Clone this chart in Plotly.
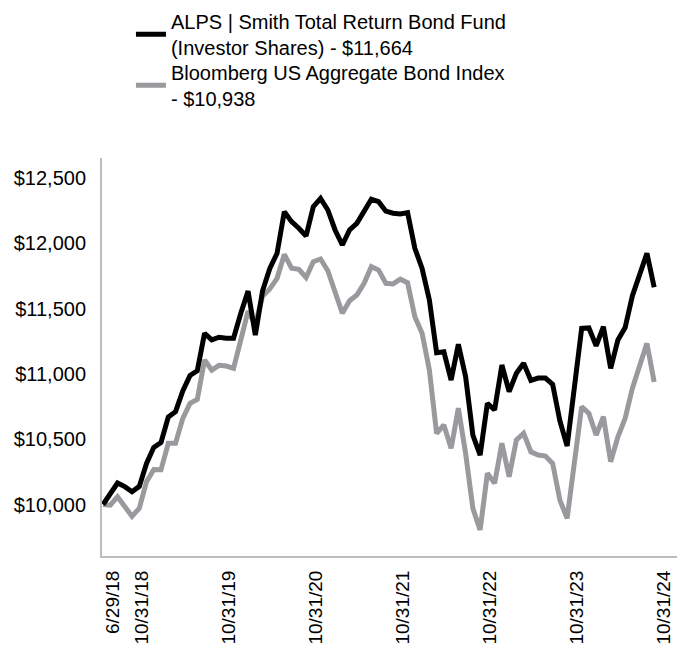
import pandas as pd
import plotly.graph_objects as go

# Monthly categories, 6/2018 .. 10/2024
months = [d.strftime("%Y-%m") for d in pd.date_range("2018-06-01", "2024-10-01", freq="MS")]

fund_name = "ALPS | Smith Total Return Bond Fund<br>(Investor Shares) - $11,664"
index_name = "Bloomberg US Aggregate Bond Index<br>- $10,938"

fund_values = [
    10000, 10075, 10165, 10137, 10098, 10139, 10315, 10438, 10475, 10670,
    10711, 10870, 10988, 11024, 11311, 11260, 11281, 11274, 11274, 11464,
    11634, 11298, 11636, 11808, 11923, 12242, 12166, 12115, 12056, 12280,
    12344, 12255, 12102, 11987, 12102, 12153, 12242, 12337, 12319, 12246,
    12230, 12225, 12235, 11962, 11808, 11566, 11163, 11170, 10953, 11227,
    10979, 10532, 10379, 10775, 10724, 11068, 10864, 11005, 11081, 10950,
    10968, 10968, 10920, 10640, 10448, 10902, 11349, 11352, 11215, 11361,
    11043, 11260, 11355, 11598, 11750, 11923, 11664,
]

index_values = [
    10000, 9995, 10060, 9985, 9910, 9971, 10175, 10268, 10266, 10469,
    10469, 10660, 10775, 10805, 11106, 11030, 11066, 11060, 11043, 11260,
    11480, 11380, 11595, 11650, 11732, 11915, 11810, 11801, 11738, 11859,
    11880, 11790, 11617, 11464, 11560, 11604, 11694, 11821, 11795, 11694,
    11689, 11725, 11698, 11438, 11311, 11030, 10545, 10609, 10430, 10737,
    10392, 9971, 9805, 10239, 10162, 10469, 10213, 10494, 10545, 10404,
    10379, 10371, 10315, 10034, 9894, 10341, 10749, 10698, 10532, 10672,
    10328, 10519, 10660, 10890, 11056, 11234, 10938,
]

tick_months = ["2018-06", "2018-10", "2019-10", "2020-10", "2021-10", "2022-10", "2023-10", "2024-10"]
tick_labels = ["6/29/18", "10/31/18", "10/31/19", "10/31/20", "10/31/21", "10/31/22", "10/31/23", "10/31/24"]

y_ticks = [10000, 10500, 11000, 11500, 12000, 12500]
y_labels = ["$10,000", "$10,500", "$11,000", "$11,500", "$12,000", "$12,500"]

FONT = "Liberation Sans, Arial, Helvetica, sans-serif"

fig = go.Figure()
fig.add_trace(go.Scatter(
    x=months, y=fund_values, mode="lines", name=fund_name,
    line=dict(color="#000000", width=5), legend="legend",
))
fig.add_trace(go.Scatter(
    x=months, y=index_values, mode="lines", name=index_name,
    line=dict(color="#9a9a9e", width=5), legend="legend2",
))
# draw the fund line on top
fig.data = (fig.data[1], fig.data[0])

legend_common = dict(
    xanchor="left", yanchor="top",
    font=dict(family=FONT, size=20, color="#000000"),
    bgcolor="rgba(0,0,0,0)", borderwidth=0, itemwidth=30,
)

# page body has an 8px default margin; the figure is sized to fill the window
fig.update_layout(
    width=677, height=638,
    margin=dict(l=94, r=4, t=150, b=90, autoexpand=False),
    paper_bgcolor="white", plot_bgcolor="white",
    font=dict(family=FONT, size=20, color="#000000"),
    showlegend=True,
    legend=dict(x=0.050, y=1.3925, **legend_common),
    legend2=dict(x=0.050, y=1.2643, **legend_common),
    xaxis=dict(
        type="category", range=[-0.14, 79.7], automargin=False,
        tickmode="array", tickvals=tick_months, ticktext=tick_labels,
        tickangle=-90, ticks="", showgrid=False, zeroline=False,
        showline=True, linecolor="#bdbdbd", linewidth=2,
        tickfont=dict(family=FONT, size=19, color="#000000"),
        ticklabelshift=10, ticklabelstandoff=5,
    ),
    yaxis=dict(
        range=[9606, 12653], automargin=False,
        tickmode="array", tickvals=y_ticks, ticktext=y_labels,
        ticks="", showgrid=False, zeroline=False,
        showline=True, linecolor="#bdbdbd", linewidth=2,
        tickfont=dict(family=FONT, size=20, color="#000000"),
        ticklabelstandoff=10,
    ),
)

fig.write_html("out.html")
